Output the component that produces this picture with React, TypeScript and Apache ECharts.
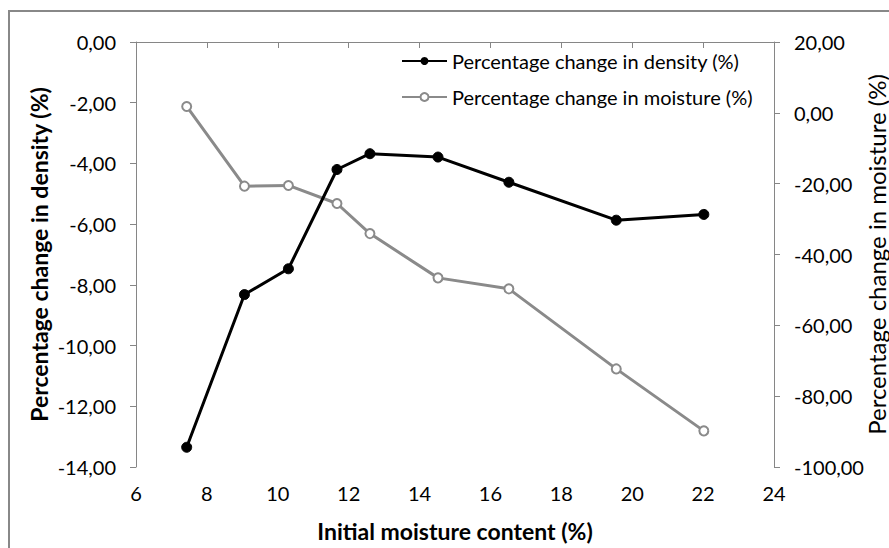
import React, { useEffect, useRef } from "react";
import * as echarts from "echarts";

const moistureContent = [7.43, 9.06, 10.3, 11.67, 12.6, 14.52, 16.52, 19.55, 22.02];
const densityChange = [-13.35, -8.32, -7.47, -4.2, -3.68, -3.79, -4.62, -5.87, -5.68];
const moistureChange = [1.8, -20.7, -20.5, -25.6, -34.1, -46.6, -49.7, -72.3, -89.8];

const xTitle = "Initial moisture content (%)";
const leftTitle = "Percentage change in density (%)";
const rightTitle = "Percentage change in moisture (%)";
const densityName = "Percentage change in density (%)";
const moistureName = "Percentage change in moisture (%)";

const FONT = "Lato";
const FS = 20;
const fmt = (v: number) => v.toFixed(2).replace(".", ",");

export default function App() {
  const ref = useRef<HTMLDivElement>(null);
  useEffect(() => {
    if (!ref.current) return;
    const chart = echarts.init(ref.current, null, { renderer: "svg" });
    const axisLine = { show: true, lineStyle: { color: "#868686", width: 1 } };
    const axisTick = { show: true, length: 6, lineStyle: { color: "#868686" } };
    chart.setOption({
      animation: false,
      backgroundColor: "#fff",
      textStyle: { fontFamily: FONT },
      grid: {
        left: 136,
        right: 115,
        top: 42,
        bottom: 81,
        containLabel: false,
        outerBoundsMode: "none",
      },
      legend: {
        orient: "vertical",
        left: 396,
        top: 46,
        itemWidth: 45,
        itemHeight: 10,
        itemGap: 16,
        textStyle: { fontFamily: FONT, fontSize: 20, color: "#000" },
        data: [densityName, moistureName],
      },
      xAxis: {
        type: "value",
        min: 6,
        max: 24,
        interval: 2,
        axisLine,
        axisTick,
        splitLine: { show: false },
        axisLabel: { fontFamily: FONT, fontSize: FS, color: "#000", margin: 16 },
        name: xTitle,
        nameLocation: "middle",
        nameGap: 52,
        nameMoveOverlap: false,
        nameTextStyle: { fontFamily: FONT, fontSize: 23, fontWeight: "bold", color: "#000" },
      },
      yAxis: [
        {
          type: "value",
          min: -14,
          max: 0,
          interval: 2,
          position: "left",
          axisLine,
          axisTick,
          splitLine: { show: false },
          axisLabel: { fontFamily: FONT, fontSize: FS, color: "#000", margin: 20, formatter: fmt },
          name: leftTitle,
          nameLocation: "middle",
          nameGap: 86,
          nameRotate: 90,
          nameMoveOverlap: false,
          nameTextStyle: { fontFamily: FONT, fontSize: 23, fontWeight: "bold", color: "#000" },
        },
        {
          type: "value",
          min: -100,
          max: 20,
          interval: 20,
          position: "right",
          axisLine,
          axisTick,
          splitLine: { show: false },
          axisLabel: { fontFamily: FONT, fontSize: FS, color: "#000", margin: 20, formatter: fmt },
          name: rightTitle,
          nameLocation: "middle",
          nameGap: 90,
          nameRotate: 90,
          nameMoveOverlap: false,
          nameTextStyle: { fontFamily: FONT, fontSize: 24, fontWeight: "normal", color: "#000" },
        },
      ],
      graphic: [
        {
          type: "rect",
          shape: { x: 9, y: 11, width: 1000, height: 1000 },
          style: { fill: "none", stroke: "#888888", lineWidth: 2 },
          silent: true,
        },
      ],
      series: [
        {
          name: densityName,
          type: "line",
          yAxisIndex: 0,
          data: moistureContent.map((x, i) => [x, densityChange[i]]),
          symbol: "circle",
          symbolSize: 10,
          lineStyle: { color: "#000", width: 3 },
          itemStyle: { color: "#000", borderColor: "#000" },
          z: 3,
        },
        {
          name: moistureName,
          type: "line",
          yAxisIndex: 1,
          data: moistureContent.map((x, i) => [x, moistureChange[i]]),
          symbol: "circle",
          symbolSize: 9,
          lineStyle: { color: "#8a8a8a", width: 3 },
          itemStyle: { color: "#fff", borderColor: "#8a8a8a", borderWidth: 2 },
          z: 2,
        },
      ],
    });
    return () => chart.dispose();
  }, []);
  return (
    <div
      ref={ref}
      style={{ position: "fixed", left: 0, top: 0, width: 889, height: 548, background: "#fff" }}
    />
  );
}
